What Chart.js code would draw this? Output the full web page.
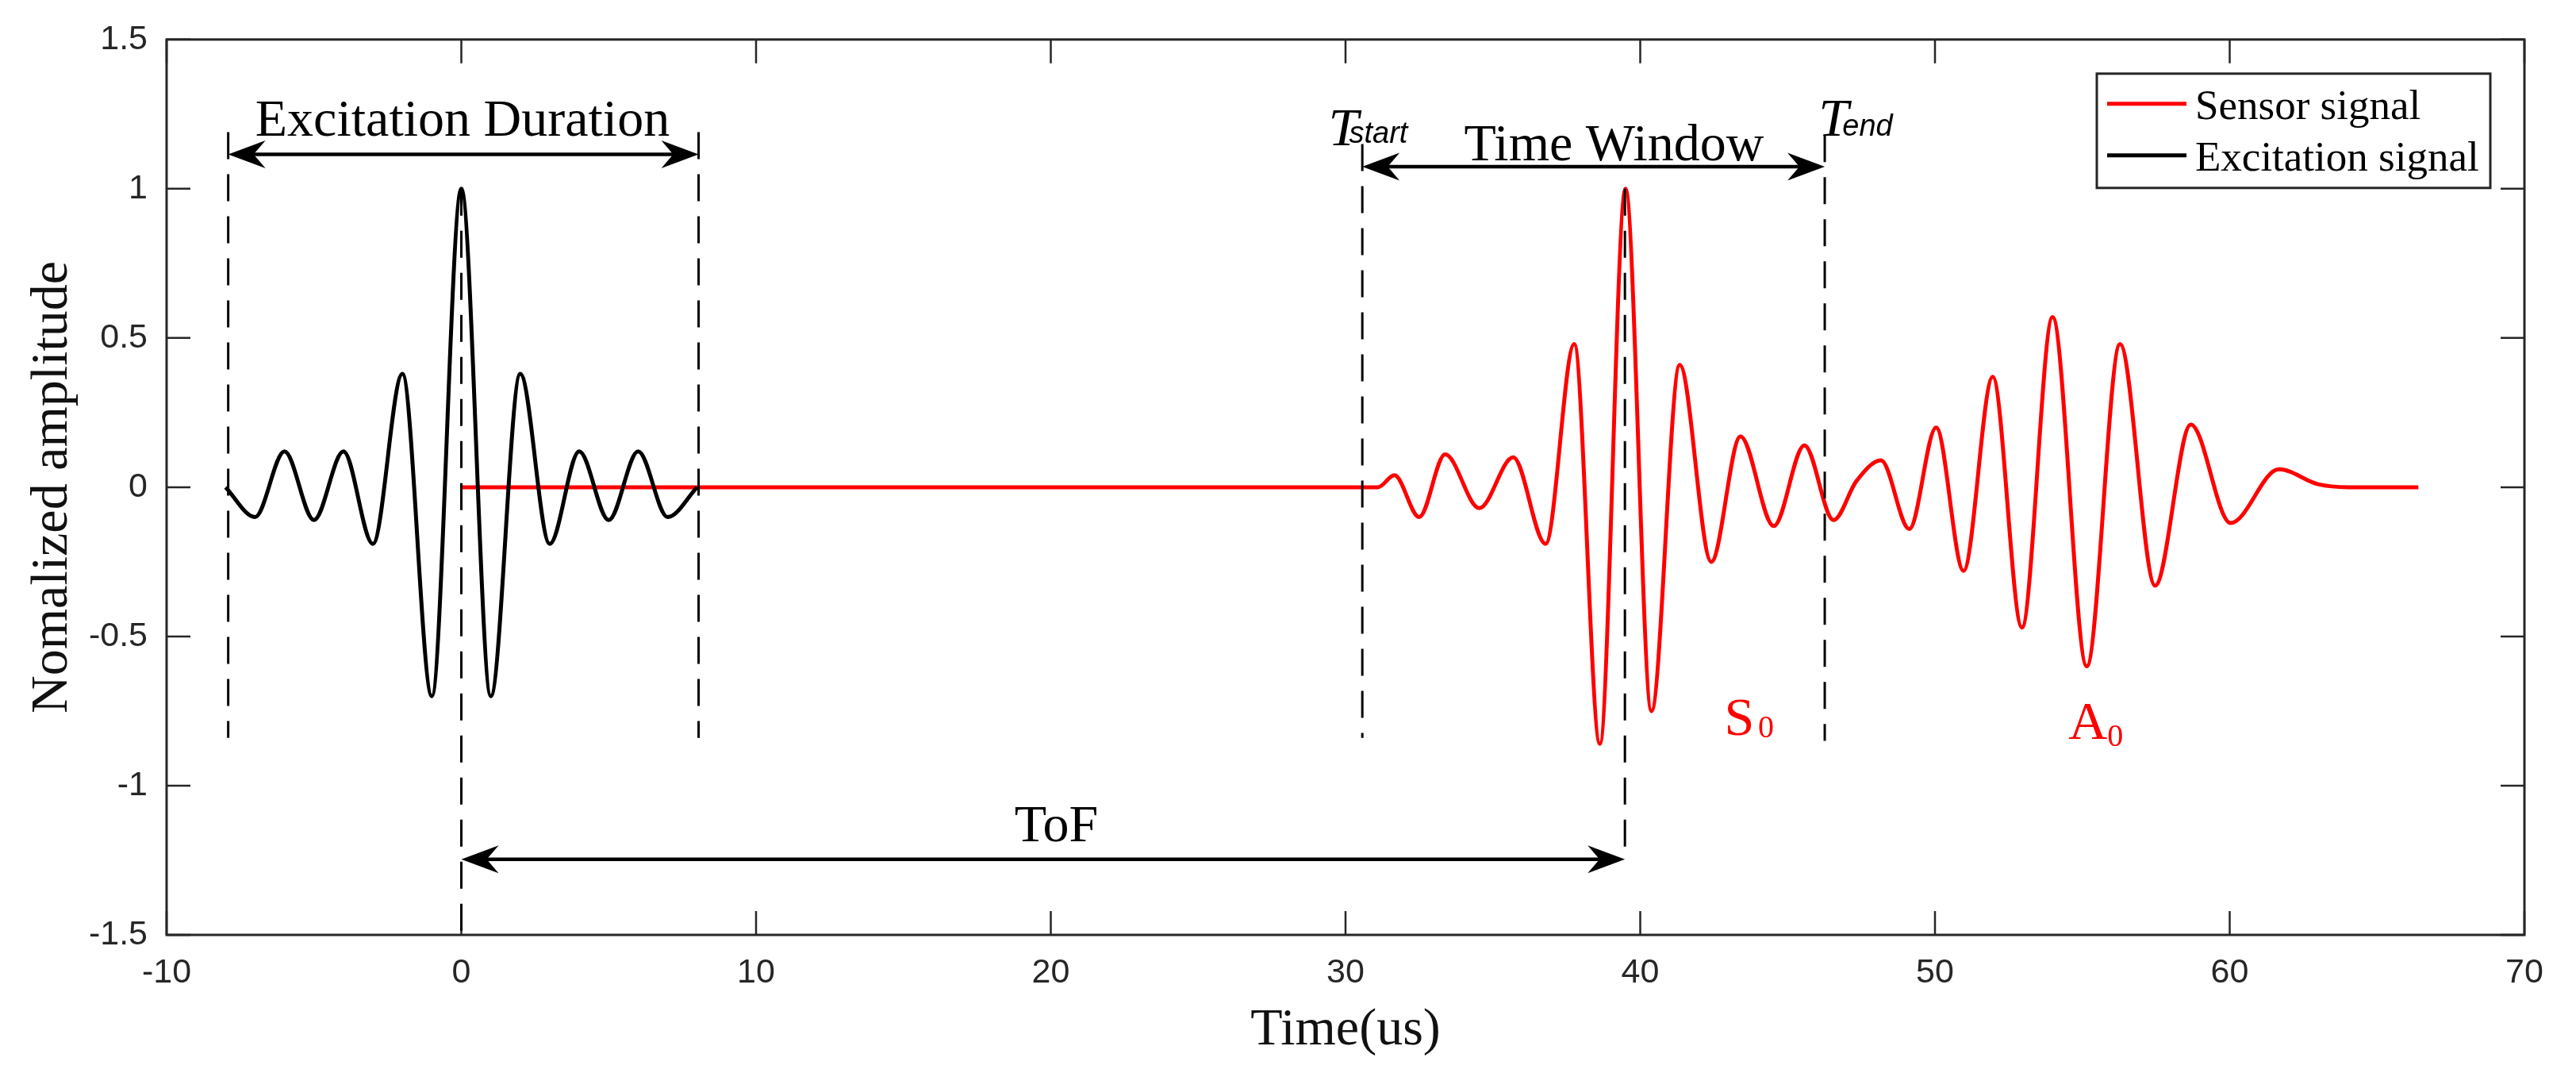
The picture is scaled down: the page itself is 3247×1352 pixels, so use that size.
<!DOCTYPE html>
<html>
<head>
<meta charset="utf-8">
<script src="https://cdn.jsdelivr.net/npm/chart.js@4.4.1/dist/chart.umd.min.js"></script>
<style>
  html, body { margin: 0; padding: 0; background: #fff; }
  #wrap { width: 3247px; height: 1352px; }
</style>
</head>
<body>
<div id="wrap"><canvas id="chart" width="3247" height="1352"></canvas></div>
<script>
// tick values
const xTicks = [-10, 0, 10, 20, 30, 40, 50, 60, 70];
const yTicks = [-1.5, -1, -0.5, 0, 0.5, 1, 1.5];

// excitation burst: peaks / troughs (us, normalized)
const excitationT = [-8, -7, -6, -5, -4, -3, -2, -1, 0, 1, 2, 3, 4, 5, 6, 7, 8];
const excitationAmp = [0, -0.10, 0.12, -0.11, 0.12, -0.19, 0.38, -0.70, 1.00, -0.70, 0.38, -0.19, 0.12, -0.11, 0.12, -0.10, 0];

// sensor signal: flat part, then the S0 and A0 packets
const sensorT = [0, 31.1, 31.66, 32.5, 33.38, 34.54, 35.69, 36.79, 37.76, 38.63, 39.5, 40.38, 41.34, 42.41, 43.4, 44.53,
  45.57, 46.56, 47.33, 48.17, 49.13, 50.04, 50.97, 51.96, 52.95, 53.99, 55.15, 56.28, 57.47, 58.68, 60.03, 61.67, 63.0, 64.0, 66.4];
const sensorAmp = [0, 0, 0.04, -0.10, 0.11, -0.07, 0.10, -0.19, 0.48, -0.86, 1.00, -0.75, 0.41, -0.25, 0.17, -0.13,
  0.14, -0.11, 0.02, 0.09, -0.14, 0.20, -0.28, 0.37, -0.47, 0.57, -0.60, 0.48, -0.33, 0.21, -0.12, 0.06, 0.01, 0, 0];

// annotation positions in data units
const dashedLines = [
  { x: -7.91, from: 1.19, to: -0.84 },
  { x: 8.05, from: 1.19, to: -0.84 },
  { x: 0, from: 1.0, to: -1.5 },
  { x: 30.57, from: 1.15, to: -0.84 },
  { x: 39.48, from: 1.0, to: -1.25 },
  { x: 46.26, from: 1.18, to: -0.85 }
];
const arrows = [
  { x1: -7.91, x2: 8.05, y: 1.115 },
  { x1: 30.57, x2: 46.26, y: 1.074 },
  { x1: 0, x2: 39.48, y: -1.247 }
];

const SERIF = '"Liberation Serif", "Times New Roman", serif';
const SANS = '"Liberation Sans", Arial, sans-serif';
const AXIS = '#262626';

const toPoints = (xs, ys) => xs.map((x, i) => ({ x: x, y: ys[i] }));

function arrowHead(ctx, tipX, tipY, dir) {
  const L = 47, W = 17.5, N = 15;
  ctx.beginPath();
  ctx.moveTo(tipX, tipY);
  ctx.lineTo(tipX - dir * L, tipY - W);
  ctx.lineTo(tipX - dir * (L - N), tipY);
  ctx.lineTo(tipX - dir * L, tipY + W);
  ctx.closePath();
  ctx.fill();
}

// axes box with inward ticks (matlab look)
const boxPlugin = {
  id: 'box',
  afterDatasetsDraw(chart) {
    const { ctx, chartArea: a, scales: { x, y } } = chart;
    ctx.save();
    ctx.strokeStyle = AXIS;
    ctx.lineWidth = 2.5;
    ctx.beginPath();
    xTicks.forEach(v => {
      const px = x.getPixelForValue(v);
      ctx.moveTo(px, a.bottom); ctx.lineTo(px, a.bottom - 30);
      ctx.moveTo(px, a.top); ctx.lineTo(px, a.top + 30);
    });
    yTicks.forEach(v => {
      const py = y.getPixelForValue(v);
      ctx.moveTo(a.left, py); ctx.lineTo(a.left + 30, py);
      ctx.moveTo(a.right, py); ctx.lineTo(a.right - 30, py);
    });
    ctx.stroke();
    ctx.lineWidth = 3;
    ctx.strokeRect(a.left, a.top, a.right - a.left, a.bottom - a.top);
    ctx.restore();
  }
};

const notesPlugin = {
  id: 'notes',
  afterDatasetsDraw(chart) {
    const { ctx, scales: { x, y } } = chart;
    const X = v => x.getPixelForValue(v), Y = v => y.getPixelForValue(v);
    ctx.save();
    ctx.strokeStyle = '#000';
    ctx.fillStyle = '#000';

    ctx.lineWidth = 3;
    ctx.setLineDash([34, 19]);
    dashedLines.forEach(d => {
      ctx.beginPath();
      ctx.moveTo(X(d.x), Y(d.from));
      ctx.lineTo(X(d.x), Y(d.to));
      ctx.stroke();
    });
    ctx.setLineDash([]);

    ctx.lineWidth = 4.5;
    arrows.forEach(a => {
      const x1 = X(a.x1), x2 = X(a.x2), py = Y(a.y);
      ctx.beginPath();
      ctx.moveTo(x1 + 30, py);
      ctx.lineTo(x2 - 30, py);
      ctx.stroke();
      arrowHead(ctx, x1, py, -1);
      arrowHead(ctx, x2, py, 1);
    });

    ctx.textBaseline = 'alphabetic';
    ctx.textAlign = 'center';
    ctx.font = '66px ' + SERIF;
    ctx.fillText('Excitation Duration', X(0.04), Y(1.177));
    ctx.fillText('Time Window', X(39.11), Y(1.095));
    ctx.fillText('ToF', X(20.19), Y(-1.187));

    ctx.textAlign = 'left';
    ctx.font = 'italic 68px ' + SERIF;
    ctx.fillText('T', X(29.42), Y(1.147));
    ctx.fillText('T', X(46.05), Y(1.179));
    ctx.font = 'italic 38px ' + SANS;
    ctx.fillText('start', X(30.12), Y(1.153));
    ctx.fillText('end', X(46.86), Y(1.179));

    ctx.fillStyle = '#ff0000';
    ctx.font = '68px ' + SERIF;
    ctx.fillText('S', X(42.85), Y(-0.829));
    ctx.fillText('A', X(54.53), Y(-0.842));
    ctx.font = '40px ' + SERIF;
    ctx.fillText('0', X(44.0), Y(-0.839));
    ctx.fillText('0', X(55.85), Y(-0.866));
    ctx.restore();
  }
};

const legendPlugin = {
  id: 'boxLegend',
  afterDraw(chart) {
    const { ctx, chartArea: a } = chart;
    const left = a.right - 539, right = a.right - 43, top = a.top + 43, bottom = a.top + 187;
    ctx.save();
    ctx.fillStyle = '#fff';
    ctx.fillRect(left, top, right - left, bottom - top);
    ctx.strokeStyle = AXIS;
    ctx.lineWidth = 3;
    ctx.strokeRect(left, top, right - left, bottom - top);
    ctx.font = '53px ' + SERIF;
    ctx.textAlign = 'left';
    ctx.textBaseline = 'alphabetic';
    chart.data.datasets.forEach((ds, i) => {
      const rowY = top + 38 + i * 65;
      ctx.strokeStyle = ds.borderColor;
      ctx.lineWidth = 5;
      ctx.beginPath();
      ctx.moveTo(left + 13, rowY);
      ctx.lineTo(left + 113, rowY);
      ctx.stroke();
      ctx.fillStyle = '#000';
      ctx.fillText(ds.label, left + 124, rowY + 19);
    });
    ctx.restore();
  }
};

new Chart(document.getElementById('chart'), {
  type: 'line',
  data: {
    datasets: [
      {
        label: 'Sensor signal',
        data: toPoints(sensorT, sensorAmp),
        borderColor: '#ff0000',
        borderWidth: 5,
        cubicInterpolationMode: 'monotone',
        pointRadius: 0,
        order: 1
      },
      {
        label: 'Excitation signal',
        data: toPoints(excitationT, excitationAmp),
        borderColor: '#000000',
        borderWidth: 5,
        cubicInterpolationMode: 'monotone',
        pointRadius: 0,
        order: 0
      }
    ]
  },
  options: {
    responsive: false,
    devicePixelRatio: 1,
    animation: false,
    layout: { padding: { left: 0, right: 65, top: 38, bottom: 0 } },
    plugins: { legend: { display: false }, tooltip: { enabled: false } },
    scales: {
      x: {
        type: 'linear',
        min: -10,
        max: 70,
        afterBuildTicks: s => { s.ticks = xTicks.map(v => ({ value: v })); },
        afterFit: s => { s.height = 174; },
        grid: { display: false, drawTicks: false },
        border: { display: false },
        ticks: { color: AXIS, padding: 22, font: { family: SANS, size: 43 }, callback: v => String(v) },
        title: { display: true, text: 'Time(us)', color: '#111', font: { family: SERIF, size: 66 }, padding: { top: 0, bottom: 14 } }
      },
      y: {
        min: -1.5,
        max: 1.5,
        afterBuildTicks: s => { s.ticks = yTicks.map(v => ({ value: v })); },
        afterFit: s => { s.width = 210; },
        grid: { display: false, drawTicks: false },
        border: { display: false },
        ticks: { color: AXIS, padding: 24, font: { family: SANS, size: 43 }, callback: v => String(v) },
        title: { display: true, text: 'Nomalized amplitude', color: '#111', font: { family: SERIF, size: 66 }, padding: { top: 27, bottom: 0 } }
      }
    }
  },
  plugins: [boxPlugin, notesPlugin, legendPlugin]
});
</script>
</body>
</html>
